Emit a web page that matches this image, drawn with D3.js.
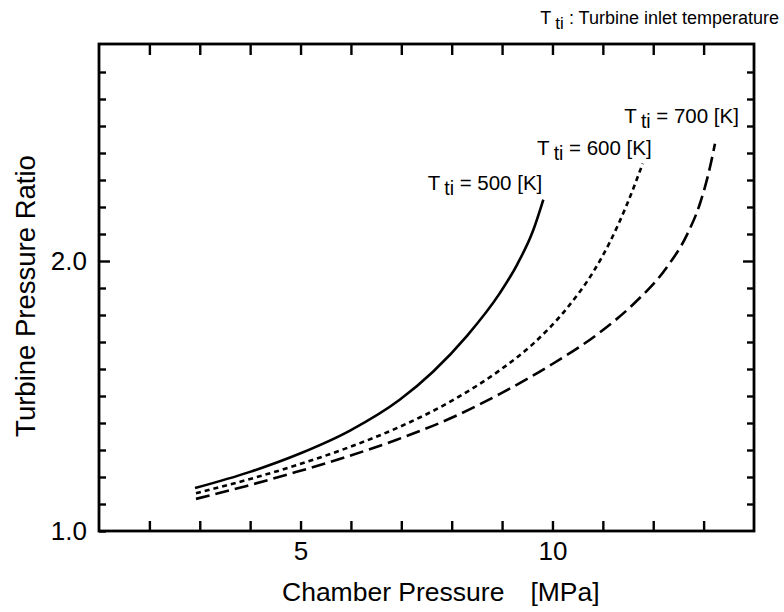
<!DOCTYPE html>
<html>
<head>
<meta charset="utf-8">
<script src="https://cdn.jsdelivr.net/npm/d3@7"></script>
<style>
  html, body { margin: 0; padding: 0; background: #fff; }
  svg { display: block; font-family: "Liberation Sans", Arial, Helvetica, sans-serif; }
</style>
</head>
<body>
<svg id="chart" width="784" height="612"></svg>
<script>
// Chamber pressure [MPa] and turbine pressure ratio for each turbine inlet temperature
const pressure500 = [2.905, 3.997, 4.989, 5.982, 6.974, 7.629, 8.304, 8.959, 9.296, 9.614, 9.818];
const ratio500    = [1.159, 1.219, 1.287, 1.372, 1.487, 1.590, 1.723, 1.882, 1.986, 2.112, 2.227];

const pressure600 = [2.925, 3.931, 4.924, 5.916, 6.909, 8.066, 8.959, 9.620, 10.283, 10.811, 11.142, 11.473, 11.791];
const ratio600    = [1.140, 1.189, 1.244, 1.307, 1.381, 1.489, 1.596, 1.694, 1.824, 1.960, 2.071, 2.207, 2.361];

const pressure700 = [2.925, 3.931, 4.924, 5.916, 6.909, 8.066, 8.959, 9.951, 10.943, 11.604, 12.267, 12.664, 12.928, 13.126, 13.225];
const ratio700    = [1.119, 1.167, 1.219, 1.275, 1.338, 1.425, 1.508, 1.613, 1.736, 1.840, 1.976, 2.095, 2.213, 2.347, 2.434];

const temperatures = ["500", "600", "700"];
const xTickLabels = [5, 10];
const yTickLabels = [1.0, 2.0];

const series = [
  { t: temperatures[0], xs: pressure500, ys: ratio500, dash: null },
  { t: temperatures[1], xs: pressure600, ys: ratio600, dash: "5,4" },
  { t: temperatures[2], xs: pressure700, ys: ratio700, dash: "14,6" }
];

const svg = d3.select("#chart");
const plotLeft = 99, plotRight = 754, plotTop = 44, plotBottom = 531;

const x = d3.scaleLinear().domain([1, 14]).range([plotLeft, plotRight]);
const y = d3.scaleLinear().domain([1, 2.8]).range([plotBottom, plotTop + 1]);

// bottom axis, ticks pointing inward
const gx = svg.append("g").attr("transform", `translate(0,${plotBottom})`)
  .call(d3.axisBottom(x).tickValues(d3.range(2, 14)).tickSize(-10).tickPadding(11)
    .tickFormat(d => xTickLabels.includes(d) ? d3.format("d")(d) : ""));
gx.select(".domain").remove();

// top axis ticks
const gxt = svg.append("g").attr("transform", `translate(0,${plotTop})`)
  .call(d3.axisTop(x).tickValues(d3.range(2, 14)).tickSize(-11).tickFormat(""));
gxt.select(".domain").remove();

// left axis
const yTicks = d3.range(11, 28).map(d => d / 10);
const gy = svg.append("g").attr("transform", `translate(${plotLeft},0)`)
  .call(d3.axisLeft(y).tickValues([1.0].concat(yTicks)).tickSize(-7).tickPadding(12)
    .tickFormat(d => yTickLabels.some(v => Math.abs(v - d) < 1e-9) ? d3.format(".1f")(d) : ""));
gy.select(".domain").remove();
gy.selectAll(".tick line").filter(d => Math.abs(d - 2.0) < 1e-9).attr("x2", 11);

// right axis ticks
const gyr = svg.append("g").attr("transform", `translate(${plotRight},0)`)
  .call(d3.axisRight(y).tickValues(yTicks).tickSize(-7).tickFormat(""));
gyr.select(".domain").remove();
gyr.selectAll(".tick line").filter(d => Math.abs(d - 2.0) < 1e-9).attr("x2", -11);

svg.selectAll(".tick line").attr("stroke", "#000").attr("stroke-width", 2.4);
svg.selectAll(".tick text").attr("fill", "#000").attr("font-size", 26)
  .attr("font-family", "\"Liberation Sans\", Arial, sans-serif");

// plot frame
svg.append("rect")
  .attr("x", plotLeft).attr("y", plotTop)
  .attr("width", plotRight - plotLeft).attr("height", plotBottom - plotTop)
  .attr("fill", "none").attr("stroke", "#000").attr("stroke-width", 2.8);

// curves
const line = d3.line().x(d => x(d[0])).y(d => y(d[1])).curve(d3.curveMonotoneX);
series.forEach(s => {
  const pts = s.xs.map((v, i) => [v, s.ys[i]]);
  svg.append("path")
    .datum(pts)
    .attr("d", line)
    .attr("fill", "none")
    .attr("stroke", "#000")
    .attr("stroke-width", 2.6)
    .attr("stroke-dasharray", s.dash);
});

// curve labels: right end of label sits just above-left of the curve's end
const labelOffsets = [[-1, -10], [9, -9], [24, -21]];
function subLabel(g, xPos, yPos, size, sub, rest, anchor) {
  const t = g.append("text").attr("x", xPos).attr("y", yPos)
    .attr("font-size", size).attr("fill", "#000").attr("text-anchor", anchor);
  t.append("tspan").text("T");
  t.append("tspan").attr("dx", 4).attr("dy", 5).attr("font-size", size * 0.95).text(sub);
  t.append("tspan").attr("dy", -5).text(rest);
  return t;
}
series.forEach((s, i) => {
  const n = s.xs.length - 1;
  subLabel(svg, x(s.xs[n]) + labelOffsets[i][0], y(s.ys[n]) + labelOffsets[i][1],
    20.5, "ti", ` = ${s.t} [K]`, "end");
});

// note at top right
subLabel(svg, 779, 24, 18, "ti", " :  Turbine inlet temperature", "end");

// axis titles
const xl = svg.append("text").attr("x", 282).attr("y", 601)
  .attr("font-size", 26.5).attr("fill", "#000");
xl.append("tspan").text("Chamber Pressure");
xl.append("tspan").attr("dx", 26).text("[MPa]");

svg.append("text")
  .attr("transform", "translate(35,296) rotate(-90)")
  .attr("text-anchor", "middle")
  .attr("font-size", 27.5).attr("fill", "#000")
  .text("Turbine Pressure Ratio");
</script>
</body>
</html>
